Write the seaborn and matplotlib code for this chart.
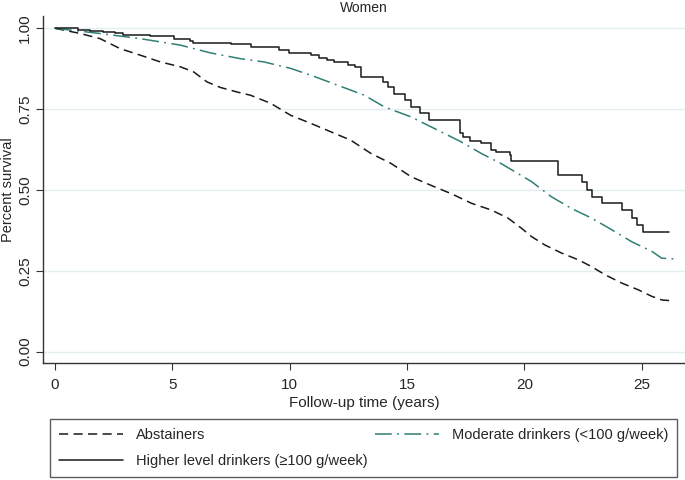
import pandas as pd
import seaborn as sns
import matplotlib.pyplot as plt

# values (years, survival proportion)
abst_t = [0, 1.07, 1.92, 2.78, 3.63, 4.49, 5.34, 5.91, 6.48, 7.05,
          7.76, 8.33, 9.19, 10.04, 10.9, 11.75, 12.6, 13.46, 14.32, 15.17,
          16.0, 16.9, 17.74, 18.59, 19.3, 19.87, 20.3, 20.87, 21.58, 22.3,
          22.86, 23.43, 24.15, 24.86, 25.43, 25.85, 26.35]
abst_s = [1.0, .984, .968, .937, .917, .896, .881, .865, .834, .817,
          .803, .793, .768, .731, .706, .68, .654, .613, .582, .541,
          .515, .488, .459, .438, .413, .382, .356, .33, .305, .284,
          .263, .238, .212, .191, .171, .16, .157]

mod_t = [0, 1.92, 3.63, 5.34, 6.62, 7.9, 8.9, 10.04, 10.9, 12.04,
         13.18, 14.03, 15.17, 16.03, 17.3, 18.16, 19.0, 20.3, 21.15, 22.0,
         22.86, 23.72, 24.57, 25.43, 25.85, 26.35]
mod_s = [1.0, .984, .968, .948, .924, .906, .896, .876, .855, .824,
         .793, .757, .726, .695, .649, .613, .582, .526, .479, .443,
         .413, .377, .34, .31, .289, .287]

high_t = [0, 1.0, 1.5, 2.06, 2.56, 2.9, 4.06, 5.05, 5.77, 5.9,
          7.48, 8.33, 9.54, 9.97, 10.9, 11.25, 11.6, 11.9, 12.47, 12.8,
          13.03, 13.96, 14.17, 14.46, 14.89, 15.17, 15.53, 15.95, 17.24, 17.4,
          17.66, 18.15, 18.58, 18.8, 19.37, 19.44, 21.44, 22.44, 22.65, 22.86,
          23.29, 24.15, 24.57, 24.79, 25.07, 26.14]
high_s = [1.0, .994, .991, .989, .984, .979, .975, .968, .961, .955,
          .951, .942, .932, .925, .917, .909, .903, .896, .886, .88,
          .848, .834, .817, .798, .778, .757, .737, .716, .675, .665,
          .652, .644, .623, .618, .608, .59, .546, .526, .5, .479,
          .459, .438, .413, .392, .371, .371]

labels = ["Abstainers", "Higher level drinkers (\u2265100 g/week)",
          "Moderate drinkers (<100 g/week)"]
y_ticks = [0, 0.25, 0.5, 0.75, 1.0]
x_ticks = [0, 5, 10, 15, 20, 25]

sns.set_style("white")
plt.rcParams["font.family"] = ["Liberation Sans", "DejaVu Sans"]

fig = plt.figure(figsize=(6.85, 4.8), dpi=100)
ax = fig.add_axes([43 / 685, 117 / 480, 642 / 685, 346.5 / 480])

df_a = pd.DataFrame({"time": abst_t, "surv": abst_s})
df_m = pd.DataFrame({"time": mod_t, "surv": mod_s})
df_h = pd.DataFrame({"time": high_t, "surv": high_s})

dark = "#1a1a1a"
teal = "#2f7f74"
sns.lineplot(data=df_a, x="time", y="surv", ax=ax, color=dark, lw=1.1,
             linestyle=(0, (6, 3.5)), estimator=None, label=labels[0])
sns.lineplot(data=df_m, x="time", y="surv", ax=ax, color=teal, lw=1.1,
             linestyle=(0, (11, 3.5, 1.2, 3.5)), estimator=None, label=labels[2])
sns.lineplot(data=df_h, x="time", y="surv", ax=ax, color=dark, lw=1.1,
             drawstyle="steps-post", estimator=None, label=labels[1])

ax.set_xlim(-0.511, 26.84)
ax.set_ylim(-0.035, 1.0365)
ax.set_xticks(x_ticks)
ax.set_yticks(y_ticks)
ax.set_yticklabels([f"{v:.2f}" for v in y_ticks], rotation=90, va="center")
ax.tick_params(axis="both", direction="out", length=5, width=0.8,
               color="#333333", labelsize=11, pad=3, bottom=True, left=True)
ax.tick_params(axis="x", pad=6)
ax.yaxis.grid(True, color="#e4eef0", lw=1)
ax.xaxis.grid(False)
for side in ["top", "right"]:
    ax.spines[side].set_visible(False)
for side in ["left", "bottom"]:
    ax.spines[side].set_color("#333333")
    ax.spines[side].set_linewidth(1.0)

ax.set_title("Women", fontsize=10, pad=3)
ax.set_xlabel("Follow-up time (years)", fontsize=11, labelpad=3)
ax.set_ylabel("Percent survival", fontsize=10.5, labelpad=2)

handles, labs = ax.get_legend_handles_labels()
order = [labs.index(l) for l in labels]
ax.get_legend().remove()
leg = fig.legend([handles[i] for i in order], labels, loc="upper center",
                 bbox_to_anchor=(50 / 685, 2 / 480, 627 / 685, 59 / 480),
                 mode="expand", ncol=2, frameon=True, fancybox=False,
                 fontsize=10.5, handlelength=4.4, handletextpad=0.9,
                 borderpad=0.6, labelspacing=0.85, borderaxespad=0)
leg.get_frame().set_edgecolor("#333333")
leg.get_frame().set_linewidth(1.0)

plt.savefig("out.png", dpi=100)
